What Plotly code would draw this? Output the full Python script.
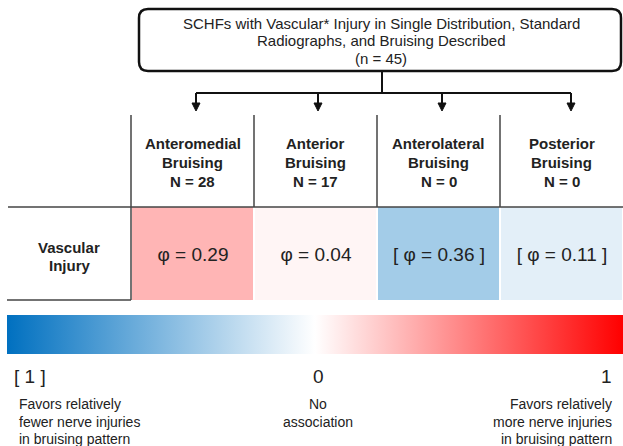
import plotly.graph_objects as go

# ---- data ----
bruising_patterns = ["Anteromedial", "Anterior", "Anterolateral", "Posterior"]
group_counts = [28, 17, 0, 0]
row_labels = ["Vascular Injury"]
phi_values = [0.29, 0.04, -0.36, -0.11]          # negative = shown in [ ]
phi_labels = ["φ = 0.29", "φ = 0.04", "[ φ = 0.36 ]", "[ φ = 0.11 ]"]
title_lines = ["SCHFs with Vascular* Injury in Single Distribution, Standard",
               "Radiographs, and Bruising Described", "(n = 45)"]
scale_labels = ["[ 1 ]", "0", "1"]
scale_notes = [["Favors relatively", "fewer nerve injuries", "in bruising pattern"],
               ["No", "association"],
               ["Favors relatively", "more nerve injuries", "in bruising pattern"]]

W, H = 623, 446
FONT = "Liberation Sans, Arial, sans-serif"
TXT = "#222222"
colorscale = [[0.0, "#0070C0"], [0.5, "#FFFFFF"], [1.0, "#FF0000"]]

# table geometry (pixels)
tbl_left, tbl_right, hdr_top, row_top, row_bot = 131, 623, 115, 207, 300

fig = go.Figure()
fig.add_trace(go.Heatmap(
    z=[phi_values], x=bruising_patterns, y=row_labels,
    text=[phi_labels], texttemplate="%{text}",
    textfont=dict(size=19, color=TXT, family=FONT),
    colorscale=colorscale, zmin=-1, zmax=1, xgap=2,
    hoverinfo="skip",
    xaxis="x2", yaxis="y2",
    colorbar=dict(orientation="h", x=7 / W, xanchor="left",
                  y=(H - 315) / H, yanchor="top", len=(W - 7) / W,
                  lenmode="fraction", thickness=39, thicknessmode="pixels",
                  outlinewidth=0, showticklabels=False, ticks="",
                  xpad=0, ypad=0),
))

shapes = []
line_blk = dict(color="#111111", width=2)
line_tbl = dict(color="#444444", width=1.5)

# rounded title box
x0, x1, y0, y1, r = 139, 621, 9, 71, 9
path = (f"M {x0+r},{y0} L {x1-r},{y0} Q {x1},{y0} {x1},{y0+r} L {x1},{y1-r} "
        f"Q {x1},{y1} {x1-r},{y1} L {x0+r},{y1} Q {x0},{y1} {x0},{y1-r} "
        f"L {x0},{y0+r} Q {x0},{y0} {x0+r},{y0} Z")
shapes.append(dict(type="path", path=path, xref="x", yref="y",
                   line=dict(color="#111111", width=2.5)))
# stem + bus
shapes.append(dict(type="line", x0=382, x1=382, y0=71, y1=93, xref="x", yref="y", line=line_blk))
arrow_x = [196, 318, 442, 571]
shapes.append(dict(type="line", x0=arrow_x[0], x1=arrow_x[-1], y0=93, y1=93,
                   xref="x", yref="y", line=line_blk))
for ax in arrow_x:
    shapes.append(dict(type="line", x0=ax, x1=ax, y0=93, y1=104, xref="x", yref="y", line=line_blk))
    shapes.append(dict(type="path", path=f"M {ax-4},{103} L {ax+4},{103} L {ax},{111} Z",
                       xref="x", yref="y", fillcolor="#111111", line=dict(color="#111111", width=1)))

# table lines
col_w = (tbl_right - tbl_left) / len(bruising_patterns)
for i in range(len(bruising_patterns)):
    xv = tbl_left + i * col_w
    shapes.append(dict(type="line", x0=xv, x1=xv, y0=hdr_top,
                       y1=row_bot if i == 0 else row_top, xref="x", yref="y", line=line_tbl))
shapes.append(dict(type="line", x0=8, x1=W, y0=row_top, y1=row_top, xref="x", yref="y", line=line_tbl))
shapes.append(dict(type="line", x0=7, x1=tbl_left, y0=row_bot, y1=row_bot, xref="x", yref="y", line=line_tbl))

ann = []
# title
for k, t in enumerate(title_lines):
    ann.append(dict(x=381, y=23 + k * 17.5, text=t, xref="x", yref="y", showarrow=False,
                    font=dict(size=15, color=TXT, family=FONT)))
# headers
for i, (p, n) in enumerate(zip(bruising_patterns, group_counts)):
    cx = tbl_left + (i + 0.5) * col_w
    for k, t in enumerate([p, "Bruising", f"N = {n}"]):
        ann.append(dict(x=cx, y=143 + k * 19, text=f"<b>{t}</b>", xref="x", yref="y",
                        showarrow=False, font=dict(size=15, color=TXT, family=FONT)))
# row label
for k, t in enumerate(row_labels[0].split(" ")):
    ann.append(dict(x=69, y=247 + k * 18.5, text=f"<b>{t}</b>", xref="x", yref="y",
                    showarrow=False, font=dict(size=15, color=TXT, family=FONT)))
# scale labels
pos = [(12, "left"), (318, "center"), (614, "right")]
for (px, al), lab, notes in zip(pos, scale_labels, scale_notes):
    ann.append(dict(x=px, y=376, text=lab, xref="x", yref="y", showarrow=False,
                    xanchor=al, font=dict(size=19, color=TXT, family=FONT)))
    for k, t in enumerate(notes):
        ann.append(dict(x=px + (5 if al == "left" else 0), y=404 + k * 17.5, text=t,
                        xref="x", yref="y", showarrow=False, xanchor=al,
                        font=dict(size=14, color=TXT, family=FONT)))

fig.update_layout(
    width=W, height=H, margin=dict(l=0, r=0, t=0, b=0),
    paper_bgcolor="white", plot_bgcolor="rgba(0,0,0,0)",
    showlegend=False,
    xaxis=dict(range=[0, W], domain=[0, 1], visible=False, fixedrange=True),
    yaxis=dict(range=[H, 0], domain=[0, 1], visible=False, fixedrange=True),
    xaxis2=dict(domain=[tbl_left / W, tbl_right / W], anchor="y2", visible=False),
    yaxis2=dict(domain=[(H - row_bot) / H, (H - row_top) / H], anchor="x2", visible=False),
    shapes=shapes, annotations=ann,
)
fig.write_html("out.html", config={"displayModeBar": False},
               post_script="document.body.style.margin='0';")
